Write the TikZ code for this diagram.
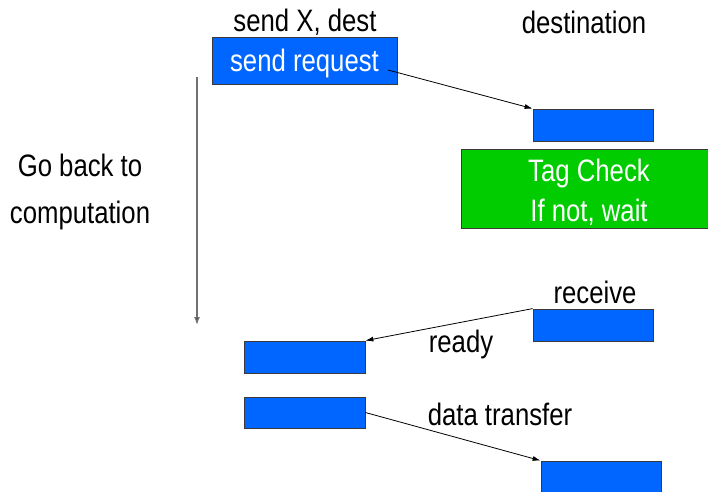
\documentclass[tikz,border=0pt]{standalone}
\usepackage{fontspec}
\setmainfont[FakeStretch=0.83]{Liberation Sans}
\usetikzlibrary{arrows.meta}
\definecolor{ink}{HTML}{000000}
\definecolor{msgblue}{HTML}{0066FF}
\definecolor{checkgreen}{HTML}{00CC00}
\definecolor{rim}{HTML}{3A3A3A}
\definecolor{timeline}{HTML}{707070}

\begin{document}
\begin{tikzpicture}[x=1pt,y=-1pt,font=\fontsize{31}{37}\selectfont,text=ink,
    >={Latex[length=8pt,width=5pt]},
    msgbox/.style={draw=rim,line width=.8pt,fill=msgblue,text=white,
      inner sep=0pt,text depth=0pt},
    wire/.style={->,ink,line width=.8pt}]
  \clip (0,0) rectangle (708,491);

  % Sender side
  \node[anchor=base] (sendlbl) at (305,31) {send X, dest};
  \node[msgbox,minimum width=185pt,minimum height=47pt] (req)
    at (304.5,60.5) {send request};
  \coordinate (reqout) at (388,70);

  % Receiver side
  \node[anchor=base] (destlbl) at (584,33) {destination};
  \node[msgbox,minimum width=120pt,minimum height=32pt] (dst) at (593,125) {};
  \node[draw=rim,line width=.8pt,fill=checkgreen,minimum width=259pt,
    minimum height=79pt,inner sep=0pt] (tag) at (590.5,188.5) {};
  \node[text=white,align=center,font=\fontsize{31}{40}\selectfont]
    (tagtxt) at (589,192) {Tag Check\\If not, wait};

  % Sender goes on computing
  \node[align=center,font=\fontsize{31}{47}\selectfont] (backlbl)
    at (80,191.5) {Go back to\\computation};
  \coordinate (back0) at (197,77);
  \coordinate (back1) at (197,325);
  \draw[->,timeline,line width=1.4pt,
    >={Latex[length=8pt,width=6pt,fill=ink]}] (back0) -- (back1);

  % Handshake
  \node[anchor=base] (recvlbl) at (595,303) {receive};
  \node[msgbox,minimum width=120pt,minimum height=32pt] (recv) at (593,325) {};
  \node[msgbox,minimum width=121pt,minimum height=32pt] (rdy) at (304.5,357) {};
  \node[anchor=base] (rdylbl) at (461,352) {ready};
  \node[msgbox,minimum width=121pt,minimum height=31pt] (data) at (304.5,412.5) {};
  \node[anchor=base] (datalbl) at (500,425) {data transfer};
  \node[msgbox,minimum width=120pt,minimum height=32pt] (fin) at (601,477) {};

  \draw[wire] (reqout) -- (dst.north west);
  \draw[wire] (recv.north west) -- (rdy.north east);
  \draw[wire] (data.east) -- (fin.north west);
\end{tikzpicture}
\end{document}
